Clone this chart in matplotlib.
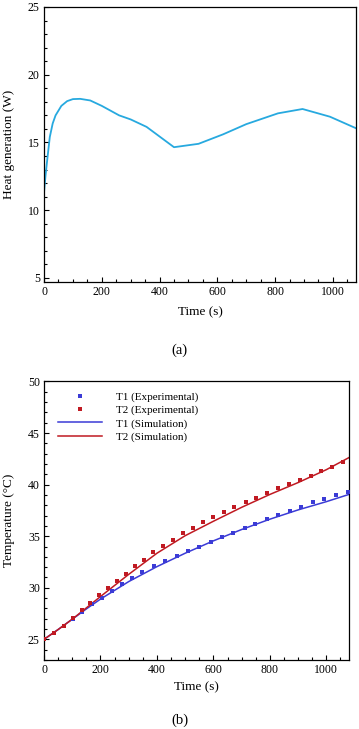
import numpy as np
import matplotlib
matplotlib.use('Agg')
import matplotlib.pyplot as plt
from matplotlib.ticker import MultipleLocator

plt.rcParams['font.family'] = ['Liberation Serif', 'DejaVu Serif']
plt.rcParams['mathtext.fontset'] = 'stix'

######################################################################
# (a) heat generation curve
heat_time = [0, 5, 10, 20, 30, 40, 60, 80, 100, 125, 160, 200, 260, 300,
             355, 450, 535, 620, 700, 810, 895, 990, 1080]
heat_watt = [11.3, 12.5, 13.5, 15.4, 16.4, 17.0, 17.7, 18.05, 18.2, 18.22,
             18.1, 17.7, 17.0, 16.7, 16.15, 14.65, 14.9, 15.6, 16.35, 17.15,
             17.47, 16.9, 16.05]

######################################################################
# (b) temperatures, experimental points
t1_exp_time = [0, 35, 70, 103, 136, 171, 207, 242, 277, 313, 348, 391, 430,
               470, 510, 550, 590, 630, 671, 711, 749, 791, 830, 870, 910,
               951, 993, 1035, 1078]
t1_exp_temp = [25.0, 25.6, 26.3, 26.96, 27.67, 28.4, 29.03, 29.65, 30.33,
               30.94, 31.55, 32.07, 32.62, 33.08, 33.53, 33.98, 34.44, 34.9,
               35.34, 35.78, 36.21, 36.64, 37.03, 37.48, 37.86, 38.29, 38.64,
               38.97, 39.32]

t2_exp_time = [0, 37, 70, 103, 133, 162, 194, 226, 257, 289, 321, 354, 387,
               421, 456, 491, 528, 563, 600, 636, 674, 714, 752, 791, 829,
               868, 906, 945, 982, 1021, 1059]
t2_exp_temp = [25.0, 25.63, 26.3, 27.03, 27.8, 28.54, 29.26, 29.97, 30.65,
               31.33, 32.08, 32.74, 33.44, 34.05, 34.66, 35.28, 35.83, 36.38,
               36.9, 37.38, 37.87, 38.33, 38.74, 39.22, 39.65, 40.03, 40.46,
               40.87, 41.33, 41.75, 42.2]

# simulation curves
sim_time = [0, 50, 100, 150, 200, 300, 400, 500, 600, 700, 800, 900, 1000, 1080]
t1_sim_temp = [25.0, 25.95, 26.95, 27.95, 28.9, 30.6, 32.05, 33.35, 34.55,
               35.65, 36.65, 37.55, 38.35, 39.05]
t2_sim_temp = [25.0, 25.95, 26.95, 28.05, 29.15, 31.3, 33.35, 35.05, 36.45,
               37.8, 39.05, 40.2, 41.45, 42.62]

LIGHT_BLUE = '#27a9df'
BLUE = '#3b3bd6'
RED = '#c01a22'

fig = plt.figure(figsize=(3.59, 7.29), dpi=100)
ax1 = fig.add_axes([0.1226, 0.6132, 0.869, 0.3772])
ax2 = fig.add_axes([0.1226, 0.0947, 0.8494, 0.382])


def style_axis(ax):
    ax.tick_params(which='both', direction='in', top=False, right=False,
                   labelsize=8.5, width=0.8, pad=3)
    ax.tick_params(which='major', length=3.5)
    ax.tick_params(which='minor', length=2)
    ax.xaxis.set_minor_locator(MultipleLocator(50))
    ax.xaxis.set_major_locator(MultipleLocator(200))
    for s in ax.spines.values():
        s.set_linewidth(0.9)
        s.set_color('black')


ax1.plot(heat_time, heat_watt, color=LIGHT_BLUE, lw=1.3, solid_joinstyle='round')
ax1.set_xlim(0, 1080)
ax1.set_ylim(4.7, 25)
ax1.yaxis.set_minor_locator(MultipleLocator(1))
ax1.set_yticks([5, 10, 15, 20, 25])
style_axis(ax1)
ax1.set_xlabel('Time (s)', fontsize=9.5, labelpad=6)
ax1.set_ylabel('Heat generation (W)', fontsize=9.5, labelpad=9)

ax2.plot(sim_time, t1_sim_temp, color=BLUE, lw=1.1, label='T1 (Simulation)', zorder=2)
ax2.plot(sim_time, t2_sim_temp, color=RED, lw=1.1, label='T2 (Simulation)', zorder=2)
ax2.plot(t1_exp_time, t1_exp_temp, 's', color=BLUE, ms=3, mew=0,
         label='T1 (Experimental)', zorder=3)
ax2.plot(t2_exp_time, t2_exp_temp, 's', color=RED, ms=3, mew=0,
         label='T2 (Experimental)', zorder=3)
ax2.set_xlim(0, 1080)
ax2.set_ylim(23, 50)
ax2.set_yticks([25, 30, 35, 40, 45, 50])
ax2.yaxis.set_minor_locator(MultipleLocator(1))
style_axis(ax2)
ax2.set_xlabel('Time (s)', fontsize=9.5, labelpad=4)
ax2.set_ylabel('Temperature (°C)', fontsize=9.5, labelpad=9)

handles, labels = ax2.get_legend_handles_labels()
order = [2, 3, 0, 1]
ax2.legend([handles[i] for i in order], [labels[i] for i in order],
           loc='upper left', bbox_to_anchor=(0.045, 0.963), frameon=False,
           fontsize=8, handlelength=4.0, handletextpad=1.2, labelspacing=0.3,
           borderpad=0, borderaxespad=0, markerscale=1.0)

fig.text(0.501, 1 - 350 / 729, '(a)', ha='center', va='center', fontsize=10.5)
fig.text(0.501, 1 - 720 / 729, '(b)', ha='center', va='center', fontsize=10.5)

fig.savefig('out.png', dpi=100)
